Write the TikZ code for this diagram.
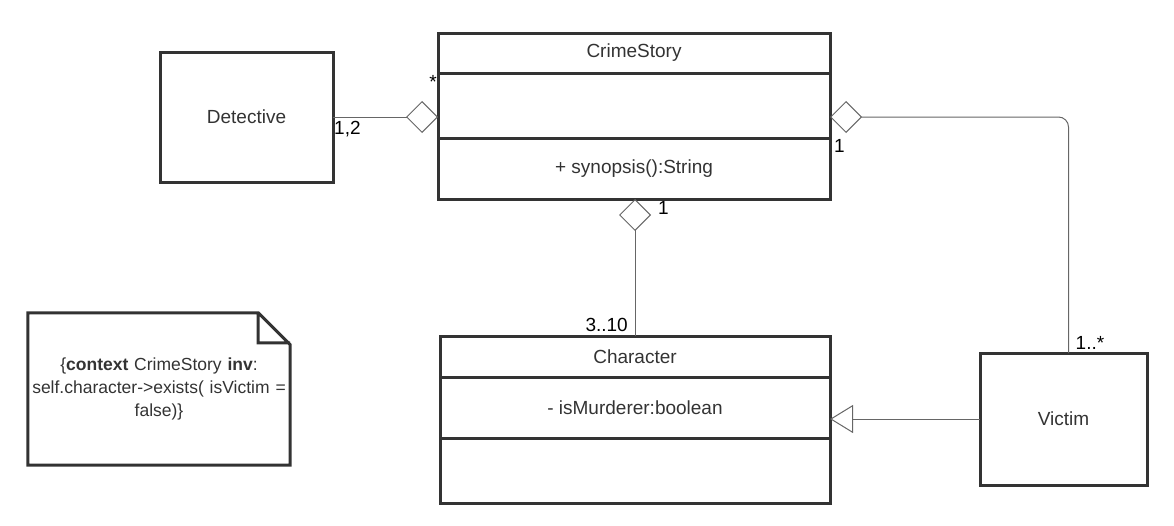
\documentclass[tikz,border=0pt]{standalone}
\usepackage{fontspec}
\setmainfont{Liberation Sans}
\usetikzlibrary{positioning,arrows.meta}
\definecolor{boxline}{HTML}{333333}
\definecolor{linkline}{HTML}{666666}
\tikzset{
  umlbox/.style={draw=boxline, line width=3pt, outer sep=0pt, inner sep=0pt,
    font=\fontsize{19}{22}\selectfont, text=boxline},
  part/.style={umlbox, minimum width=392pt},
  link/.style={draw=linkline, line width=1pt},
  aggr/.style={link, -{Diamond[open, length=32pt, width=32pt]}},
  gen/.style={link, -{Triangle[open, length=23pt, width=28pt]}},
  mult/.style={font=\fontsize{19}{22}\selectfont, inner sep=1pt, text=black},
}
\begin{document}
\begin{tikzpicture}[x=1pt,y=-1pt]
  \useasboundingbox (0,0) rectangle (1174,525);
  \node[umlbox, minimum width=173pt, minimum height=130pt] (detective) at (246.5,117) {Detective};
  \node[part, minimum height=40pt] (story) at (634,53) {CrimeStory};
  \node[part, minimum height=65pt, below=0pt of story] (storyattr) {};
  \node[part, minimum height=61pt, below=0pt of storyattr] (storyops) {+ synopsis():String};
  \node[part, minimum width=390pt, minimum height=41pt] (character) at (635,356.5) {Character};
  \node[part, minimum width=390pt, minimum height=61pt, below=0pt of character] (charattr) {- isMurderer:boolean};
  \node[part, minimum width=390pt, minimum height=65pt, below=0pt of charattr] (charops) {};
  \node[umlbox, minimum width=167pt, minimum height=132pt] (victim) at (1063.5,419) {Victim};
  \node[minimum width=262pt, minimum height=152pt, inner sep=0pt, text width=258pt, align=center,
    font=\fontsize{17.5}{23}\selectfont, text=boxline] (note) at (159,389)
    {\{\textbf{context} CrimeStory \textbf{inv}:\\ self.character->exists( isVictim =\\ false)\}};
  \draw[boxline, line width=3pt, line join=miter]
    (note.north west) -- ([xshift=-32pt]note.north east) -- ([yshift=-32pt]note.north east)
    -- (note.south east) -- (note.south west) -- cycle
    ([xshift=-32pt]note.north east) |- ([yshift=-30pt]note.north east);

  \draw[aggr] (detective.east) -- (detective.east -| storyattr.west);
  \node[mult, anchor=north west] (detmult) at ([yshift=-3pt]detective.east) {1,2};
  \node[mult, anchor=north east] (storymult) at ([yshift=-1pt]storyattr.north west) {*};
  \draw[aggr, rounded corners=10pt] ([xshift=5pt]victim.north) |- (detective.east -| storyattr.east);
  \node[mult, anchor=north west] (storyvic) at ([xshift=3pt,yshift=0pt]storyops.north east) {1};
  \node[mult, anchor=south west] (vicmult) at ([xshift=11pt,yshift=2pt]victim.north) {1..*};
  \draw[aggr] (character.north) -- (character.north |- storyops.south);
  \node[mult, anchor=north west] (storychar) at ([xshift=23pt,yshift=-1pt]storyops.south) {1};
  \node[mult, anchor=south east] (charmult) at ([xshift=-6pt,yshift=3pt]character.north) {3..10};
  \draw[gen] (victim.west) -- (victim.west -| charattr.east);
\end{tikzpicture}
\end{document}
